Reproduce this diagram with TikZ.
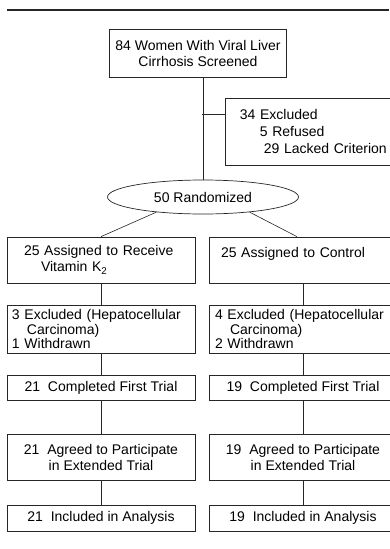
\documentclass[tikz,border=0pt]{standalone}
\usepackage{fontspec}
\setmainfont{Liberation Sans}
\usetikzlibrary{shapes.geometric}
\tikzset{
	box/.style={
		shape = rectangle,
		draw,
		inner ysep = 0pt,
		minimum width = 188pt
	},
	oval/.style={
		shape = ellipse,
		draw,
		inner sep = 0pt,
		minimum width = 191pt,
		minimum height = 34pt
	},
	link/.style={
		line width = 0.6pt
	},
}

\begin{document}
\begin{tikzpicture}[x=1pt, y=-1pt, line width=0.7pt, draw=black!85,
    font=\fontsize{14}{16}\selectfont]
    \useasboundingbox (0,0) rectangle (389,549);
    \draw[line width=1.6pt] (7,10) -- (389,10);
    % screening and exclusion
    \node[box, minimum width=177pt, minimum height=48pt, align=center] (scr) at (198,53)
      {84 Women With Viral Liver\\Cirrhosis Screened};
    \node[box, anchor=north west, minimum height=67pt, inner xsep=8pt, text width=159pt,
      align=left, font=\fontsize{14}{17}\selectfont] (exc) at (225,98)
      {34 Excluded\\\hspace{20pt}5 Refused\\\hspace{24pt}29 Lacked Criterion};
    \node[oval] (rand) at (203,197) {50 Randomized};
    \coordinate (fork) at (202,114);
    \draw[link] (scr.south -| rand.north) -- (rand.north);
    \draw[link] (fork) -- (fork -| exc.west);
    % the two arms
    \node[box, minimum height=46pt, inner xsep=17pt, text width=154pt, align=left] (asgA) at (101,260)
      {25 Assigned to Receive\\\hspace{17pt}Vitamin K\textsubscript{2}};
    \node[box, minimum height=46pt, inner xsep=12pt, text width=164pt, align=left] (asgB) at (303,260)
      {25 Assigned to Control\\\mbox{}};
    \node[box, minimum height=48pt, inner xsep=5pt, text width=178pt, align=left,
      font=\fontsize{14}{14.5}\selectfont] (exA) at (101,329)
      {3 Excluded (Hepatocellular\\\hspace{15pt}Carcinoma)\\1 Withdrawn};
    \node[box, minimum height=48pt, inner xsep=6pt, text width=176pt, align=left,
      font=\fontsize{14}{14.5}\selectfont] (exB) at (303,329)
      {4 Excluded (Hepatocellular\\\hspace{15pt}Carcinoma)\\2 Withdrawn};
    \draw[link] (rand.198) -- (asgA.north);
    \draw[link] (rand.342) -- ([xshift=-6pt]asgB.north);
    \foreach \c/\x/\k in {A/101/21, B/303/19}{
      \node[box, minimum height=25pt] (done\c) at (\x,387.5) {\k\ \ Completed First Trial};
      \node[box, minimum height=46pt, align=center] (agr\c) at (\x,457)
        {\k\ \ Agreed to Participate\\in Extended Trial};
      \node[box, minimum height=26pt] (inc\c) at (\x,518) {\k\ \ Included in Analysis};
      \draw[link] (asg\c) -- (ex\c);
      \draw[link] (ex\c) -- (done\c);
      \draw[link] (done\c) -- (agr\c);
      \draw[link] (agr\c) -- (inc\c);
    }
  \end{tikzpicture}
\end{document}
